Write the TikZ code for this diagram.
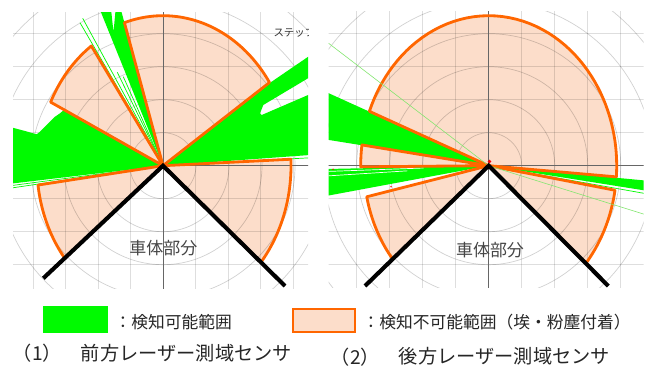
\documentclass[tikz,border=0pt]{standalone}
\usepackage{fontspec}
\newfontfamily\jpf{Noto Sans CJK JP}
\usetikzlibrary{calc}
\definecolor{peach}{RGB}{252,221,202}
\definecolor{orng}{RGB}{255,102,0}
\definecolor{detgreen}{RGB}{0,250,0}
\definecolor{lightray}{RGB}{130,230,110}
\definecolor{txtgray}{RGB}{70,70,70}
\newcommand\mysec[5]{\path[#5,shift={(#1)}] (0,0) -- plot[domain=#2:#3,samples=60,variable=\t] ({-\t}:{#4*ellr(\t)}) -- cycle;}
\begin{document}
\begin{tikzpicture}[x=0.03cm,y=-0.03cm,
  declare function={ellr(\t)=192/sqrt((1.5*cos(\t))^2+(1.28*sin(\t))^2);},
  secfill/.style={fill=peach},
  secline/.style={draw=orng,line width=2.4pt,line join=round},
  gridline/.style={draw=black,draw opacity=0.13,line width=0.6pt},
  gridcirc/.style={draw=black,draw opacity=0.18,line width=0.6pt},
  axisline/.style={draw=black!60,line width=0.7pt},
  det/.style={fill=detgreen},
  ray/.style={draw=detgreen,line width=0.6pt},
  faint/.style={draw=lightray,line width=0.5pt},
  body/.style={draw=black,line width=3.5pt,line join=miter},
  legtext/.style={font=\jpf\fontsize{14.3}{16}\selectfont,text=black!85,inner sep=0pt,anchor=west},
  captext/.style={font=\jpf\fontsize{16.4}{18}\selectfont,text=black!85,inner sep=0pt},
  bodytext/.style={font=\jpf\fontsize{14.5}{16}\selectfont,text=txtgray,inner sep=0pt},
  steptext/.style={font=\jpf\fontsize{8.9}{10}\selectfont,text=black!80,inner sep=0pt,anchor=west}]
\fill[white] (0,0) rectangle (653,369);
\useasboundingbox (0,0) rectangle (653,369);
\coordinate (C1) at (163,165.7);
\coordinate (C2) at (488.7,165.7);
% ---------------- panel 1 ----------------
\begin{scope}
\clip (13,13) rectangle (308,288);
\mysec{C1}{38}{105.1}{1}{secfill}
\mysec{C1}{120.9}{150.5}{0.975}{secfill}
\mysec{C1}{188.8}{223.25}{0.985}{secfill}
\mysec{C1}{-44.6}{2.9}{1}{secfill}
\begin{scope}[shift={(C1)}]
  \foreach \k in {-5,...,5} {\draw[gridline] (\k*32.5,-200) -- (\k*32.5,200);}
  \foreach \k in {-5,...,5} {\draw[gridline] (-200,\k*33) -- (200,\k*33);}
  \foreach \r in {33,66,99,132,165,198} {\draw[gridcirc] (0,0) circle[radius=\r];}
\end{scope}
\draw[axisline] (163,0) -- (163,300);
\draw[axisline] (0,165.7) -- (320,165.7);
% green (detection possible)
\fill[det] (C1) -- (64,109.8) -- (60,113.3) -- (55,116.7) -- (51.7,120) -- (46.7,125) -- (43.3,128.3) -- (40,131.7) -- (36.7,134.3) -- (25,131) -- (8,126.5) -- (8,184) -- cycle;
\draw[ray] (C1) -- (8,186);
\draw[ray] (C1) -- (8,188.5);
\fill[det] (C1) -- (96,0) -- (110,0) -- (113.5,32) -- (116.5,0) -- (118.3,0) -- cycle;
\draw[ray] (C1) -- (80,22.7);
\draw[ray] (C1) -- (82.7,18.3);
\draw[ray] (C1) -- (117.3,72.3);
\draw[ray] (C1) -- (123.3,76.7);
\fill[det] (C1) -- (269.3,83.3) -- (310,55.5) -- (310,77.1) -- (263.3,105) -- (260,113.3) -- (261.7,115) -- (310,94.2) -- (310,155) -- cycle;
\draw[ray] (C1) -- (310,157.8);
% outlines
\mysec{C1}{38}{105.1}{1}{secline}
\mysec{C1}{120.9}{150.5}{0.975}{secline}
\mysec{C1}{188.8}{223.25}{0.985}{secline}
\mysec{C1}{-44.6}{2.9}{1}{secline}
\coordinate (L1) at (43.3,278.3);
\coordinate (R1) at (285,286);
\draw[body] (L1) -- (C1) -- (R1);
\node[bodytext] (body1) at (163.3,248.3) {車体部分};
\node[steptext] (step1) at (273.3,32.7) {ステップ};
\end{scope}
% ---------------- panel 2 ----------------
\begin{scope}
\clip (328.5,12) rectangle (643.5,287);
\mysec{C2}{-5}{155.5}{1}{secfill}
\mysec{C2}{170.7}{180.5}{1}{secfill}
\mysec{C2}{194.3}{224.2}{0.975}{secfill}
\mysec{C2}{-45.2}{-11}{1}{secfill}
\begin{scope}[shift={(C2)}]
  \foreach \k in {-5,...,5} {\draw[gridline] (\k*33,-200) -- (\k*33,200);}
  \foreach \k in {-5,...,5} {\draw[gridline] (-200,\k*33) -- (200,\k*33);}
  \foreach \r in {33,66,99,132,165,198} {\draw[gridcirc] (0,0) circle[radius=\r];}
\end{scope}
\draw[axisline] (488.7,0) -- (488.7,300);
\draw[axisline] (320,165.7) -- (660,165.7);
\fill[det] (C2) -- (326,92) -- (326,139.5) -- cycle;
\fill[det] (C2) -- (326,169) -- (326,196) -- cycle;
\draw[white,line width=0.6pt] (326,171.5) -- ($(326,171.5)!0.6!(C2)$);
\draw[white,line width=0.6pt] (326,176) -- ($(326,176)!0.5!(C2)$);
\fill[det] (C2) -- (645,180.5) -- (645,190.5) -- cycle;
\draw[ray] (C2) -- (645,193.5);
\mysec{C2}{-5}{155.5}{1}{secline}
\mysec{C2}{170.7}{180.5}{1}{secline}
\mysec{C2}{194.3}{224.2}{0.975}{secline}
\mysec{C2}{-45.2}{-11}{1}{secline}
\draw[faint] (326,41.3) -- (C2);
\draw[faint] (C2) -- (645,214.5);
\fill[red] (489.5,161.5) circle[radius=1.8];
\fill[red] (333,169.3) circle[radius=0.8];
\fill[red] (391,186.7) circle[radius=0.8];
\coordinate (L2) at (365,286);
\coordinate (R2) at (608.3,286);
\draw[body] (L2) -- (C2) -- (R2);
\node[bodytext] (body2) at (490,250) {車体部分};
\end{scope}
% ---------------- legend ----------------
\fill[detgreen] (43.3,305.7) rectangle (108.3,332.7);
\draw[orng,line width=1.9pt,fill=peach] (292.7,309.3) rectangle (355.3,332.3);
\node[legtext] (leg1) at (114.3,322) {：検知可能範囲};
\node[legtext] (leg2) at (362.3,322) {：検知不可能範囲（埃・粉塵付着）};
\node[captext] (num1) at (37.5,353.3) {（1）};
\node[captext,anchor=west] (cap1) at (80.7,353.3) {前方レーザー測域センサ};
\node[captext] (num2) at (355.5,356.7) {（2）};
\node[captext,anchor=west] (cap2) at (398.7,356.7) {後方レーザー測域センサ};
\end{tikzpicture}
\end{document}
